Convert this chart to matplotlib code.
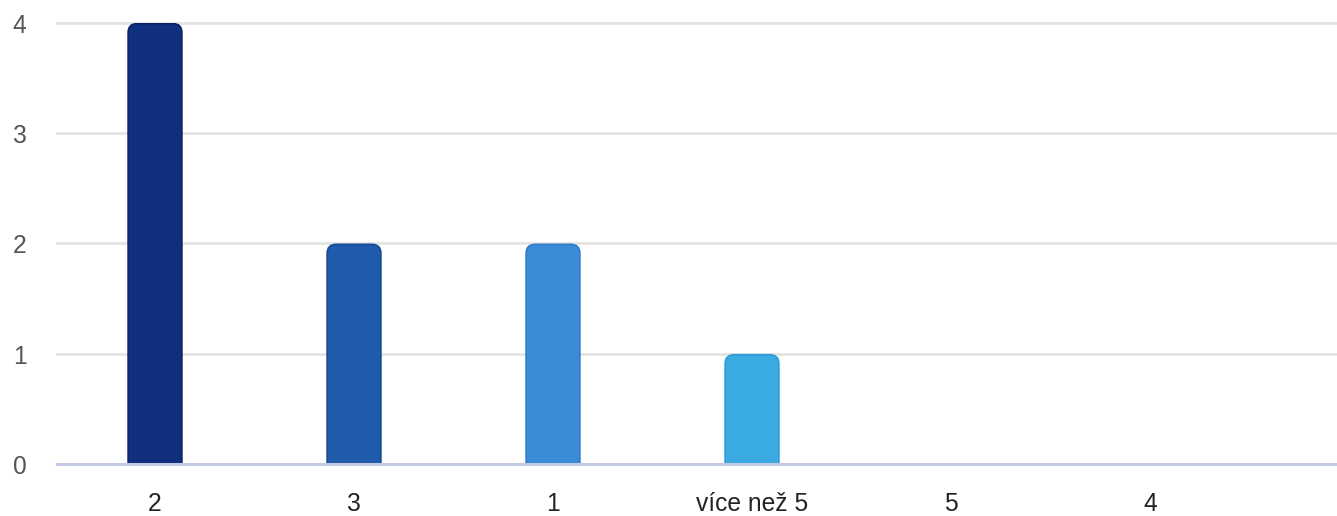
import matplotlib.pyplot as plt
import matplotlib.transforms as mtransforms
from matplotlib.patches import FancyBboxPatch

categories = ['2', '3', '1', 'více než 5', '5', '4']
counts = [4, 2, 2, 1, 0, 0]
bar_colors = ['#10307f', '#1f5bab', '#3a8bd8', '#3aaae3', '#3aaae3', '#3aaae3']
edge_colors = ['#0a2266', '#164a94', '#2f7cc8', '#2f9bd6', '#2f9bd6', '#2f9bd6']
y_ticks = [0, 1, 2, 3, 4]

plt.rcParams['font.family'] = ['Liberation Sans', 'DejaVu Sans']

W, H = 1337, 516
fig = plt.figure(figsize=(W / 100, H / 100), dpi=100)
ax = fig.add_axes([57 / W, 52 / H, 1 - 57 / W, (464 - 22.5) / H])

x = list(range(len(categories)))
xmin, xmax = (57 - 155) / 199, (W - 155) / 199
ax.set_xlim(xmin, xmax)
ax.set_ylim(0, 4)

# gridlines
for t in y_ticks[1:]:
    ax.axhline(t, color='#e3e3e3', lw=2, zorder=0, clip_on=False)
ax.axhline(0, color='#c3c8e4', lw=2.2, zorder=3, clip_on=False)

# bars with rounded tops (bottoms pushed below 0 and clipped)
width = 0.27
aspect = 199 / 110.4
r = 0.045
for xi, v, c, ec in zip(x, counts, bar_colors, edge_colors):
    if v <= 0:
        continue
    p = FancyBboxPatch((xi - width / 2, -0.2), width, v + 0.2 - 0.01,
                       boxstyle=f'round,pad=0,rounding_size={r}',
                       mutation_aspect=aspect,
                       facecolor=c, edgecolor=ec, lw=1.2, zorder=2)
    ax.add_patch(p)

ax.set_xticks(x)
ax.set_xticklabels(categories, fontsize=17.7, color='#222222')
ax.set_yticks(y_ticks)
ax.set_yticklabels([str(t) for t in y_ticks], fontsize=17.7, color='#555555',
                   va='center')
ax.tick_params(axis='both', length=0)
ax.tick_params(axis='x', pad=20.5)
ax.tick_params(axis='y', pad=22)
shift = mtransforms.ScaledTranslation(0, -3 / 100, fig.dpi_scale_trans)
for lbl in ax.get_yticklabels():
    lbl.set_transform(lbl.get_transform() + shift)
for s in ax.spines.values():
    s.set_visible(False)

fig.savefig('out.png', dpi=100)
